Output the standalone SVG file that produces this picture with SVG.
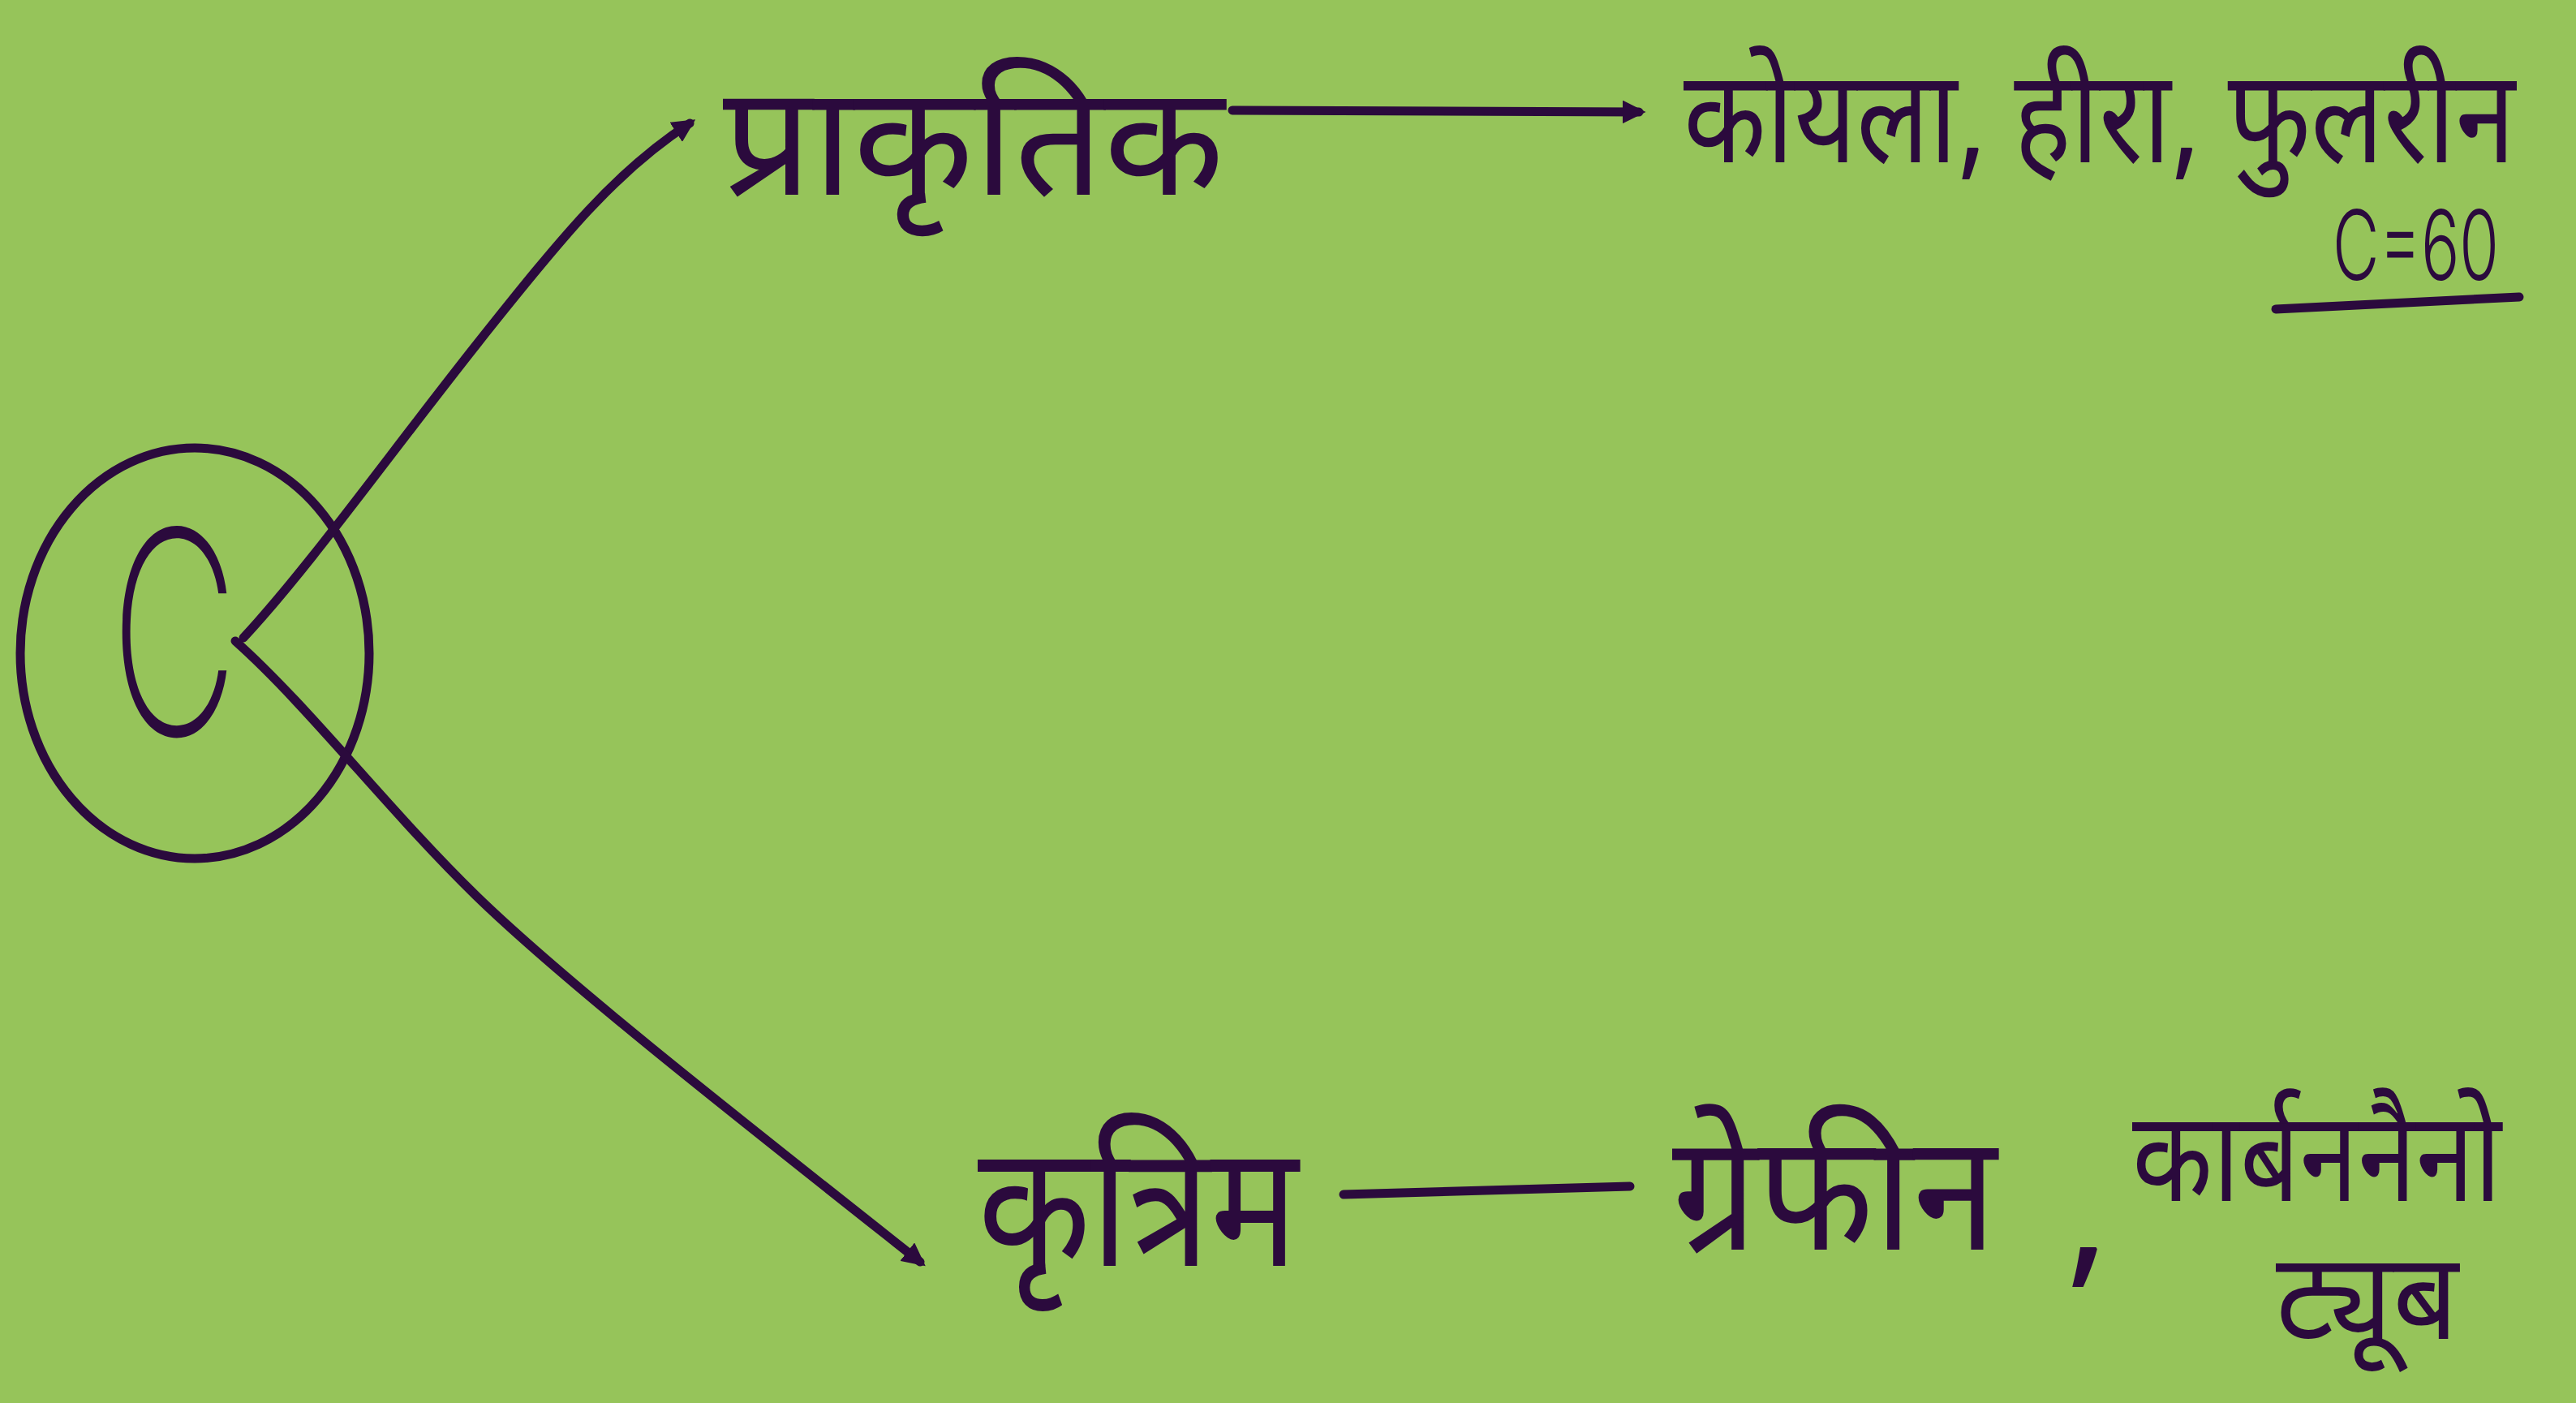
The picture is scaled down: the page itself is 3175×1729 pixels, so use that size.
<svg xmlns="http://www.w3.org/2000/svg" width="3175" height="1729" viewBox="0 0 3175 1729">
<defs>
<style>
.ink{fill:#2b0a3d;font-family:"Noto Sans Devanagari","Lohit Devanagari","Noto Sans","DejaVu Sans",sans-serif;}
.lat{fill:#2b0a3d;font-family:Inter,"Liberation Sans","DejaVu Sans",sans-serif;}
.ln{fill:none;stroke:#2b0a3d;stroke-width:11;stroke-linecap:round;stroke-linejoin:round;}
</style>
<marker id="ah" viewBox="0 0 10 10" refX="7" refY="5" markerWidth="2.6" markerHeight="2.6" orient="auto" markerUnits="strokeWidth">
<path d="M0,0 L10,5 L0,10 z" fill="#2b0a3d"/>
</marker>
</defs>
<rect x="0" y="0" width="3175" height="1729" fill="#96c45a"/>
<g id="node-c">
<ellipse cx="240" cy="805" rx="215" ry="253" class="ln"/>
<text class="lat" font-weight="200" transform="translate(136,906) scale(0.62,1)" font-size="350">C</text>
</g>
<g id="connectors">
<path class="ln" d="M300,786 C380,700 480,560 587,425 S760,210 850,152" marker-end="url(#ah)"/>
<path class="ln" d="M290,790 C380,870 480,1000 587,1104 S900,1370 1134,1555" marker-end="url(#ah)"/>
<path class="ln" d="M1519,136 L2020,138" marker-end="url(#ah)"/>
<path class="ln" d="M1656,1472 L2009,1462"/>
</g>
<g id="node-natural">
<text class="ink" x="891" y="240" font-size="190" textLength="618" lengthAdjust="spacingAndGlyphs">प्राकृतिक</text>
</g>
<g id="node-natural-examples">
<text class="ink" x="2075" y="200" font-size="160" textLength="1025" lengthAdjust="spacingAndGlyphs">कोयला, हीरा, फुलरीन</text>
<text class="lat" font-weight="300" x="2875" y="345" font-size="120" textLength="205" lengthAdjust="spacingAndGlyphs">C=60</text>
<path class="ln" d="M2805,381 L3105,366"/>
</g>
<g id="node-artificial">
<text class="ink" x="1205" y="1560" font-size="210" textLength="395" lengthAdjust="spacingAndGlyphs">कृत्रिम</text>
</g>
<g id="node-artificial-examples">
<text class="ink" x="2061" y="1540" font-size="200" textLength="400" lengthAdjust="spacingAndGlyphs">ग्रेफीन</text>
<text class="ink" x="2545" y="1560" font-size="200">,</text>
<text class="ink" x="2628" y="1480" font-size="155" textLength="455" lengthAdjust="spacingAndGlyphs">कार्बननैनो</text>
<text class="ink" x="2805" y="1650" font-size="150" textLength="225" lengthAdjust="spacingAndGlyphs">ट्यूब</text>
</g>
</svg>
